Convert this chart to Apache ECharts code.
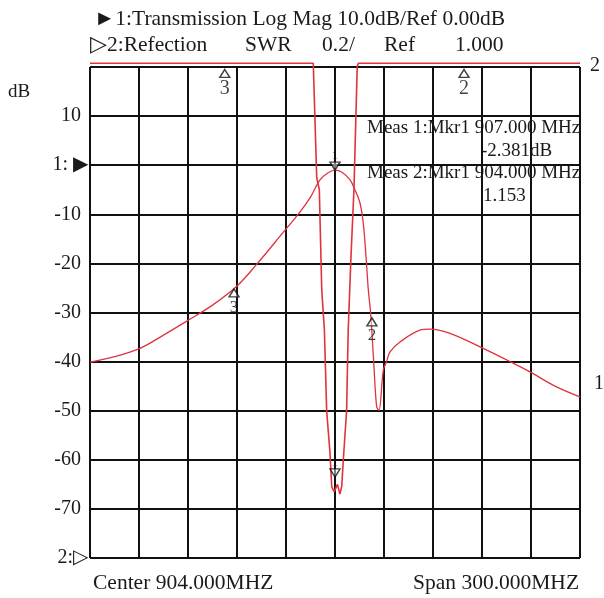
<!DOCTYPE html>
<html>
<head>
<meta charset="utf-8">
<script src="https://cdn.jsdelivr.net/npm/echarts@6/dist/echarts.min.js"></script>
<style>
html,body{margin:0;padding:0;background:#fff;}
#chart{width:604px;height:598px;}
</style>
</head>
<body>
<div id="chart"></div>
<script>
// ---- data ----
const CENTER_MHZ = 904;
const SPAN_MHZ = 300;
const dbTicks = [20, 10, 0, -10, -20, -30, -40, -50, -60, -70, -80];
const dbTickLabels = ['', '10', '1: \u25B6', '-10', '-20', '-30', '-40', '-50', '-60', '-70', '2:\u25B7'];

// Trace 1: Transmission (dB)
const transFreq = [754, 769, 784.6, 799, 814, 829, 844, 856, 872, 882.6, 889, 894.8, 900, 904, 908, 913.2, 916.2, 919.3, 921.3, 923.0, 924.4, 925.8, 927.6, 929.5, 930.9, 933.6, 935.6, 937.7, 943.8, 956, 962, 974, 992.8, 1013, 1023.4, 1038.7, 1054];
const transDb   = [-40.1, -39.0, -37.3, -34.6, -31.6, -28.5, -24.6, -20.2, -13.8, -9.5, -6.5, -3.0, -1.5, -1.0, -1.4, -3.0, -5.0, -7.7, -11.8, -18.7, -25.4, -30.1, -39.5, -49.2, -49.9, -41.7, -40.0, -38.0, -36.0, -33.6, -33.4, -34.2, -37.0, -40.3, -42.1, -45.0, -47.2];

// Trace 2: Reflection (SWR)
const swrFreq = [754, 890.7, 892.8, 894.4, 895.9, 897.5, 898.9, 900.9, 902.0, 903.5, 905.5, 907.0, 908.1, 909.1, 911.1, 912.1, 913.8, 915.6, 917.6, 918.3, 1054];
const swrVal  = [3.015, 3.015, 2.55, 2.50, 2.09, 1.93, 1.60, 1.43, 1.29, 1.27, 1.30, 1.26, 1.29, 1.40, 1.60, 1.93, 2.23, 2.50, 3.0, 3.015, 3.015];

// Markers
const transMkFreq = [904, 842.2, 926.6];
const transMkVal  = [-1.0, -25.2, -31.1];
const transMkName = ['1', '3', '2'];
const swrMkFreq = [904, 836.5, 983];
const swrMkVal  = [1.33, 2.99, 2.99];
const swrMkName = ['1', '3', '2'];

const headerLine1 = '\u25BA1:Transmission Log Mag 10.0dB/Ref 0.00dB';
const headerLine2 = ['\u25B72:Refection', 'SWR', '0.2/', 'Ref', '1.000'];
const meas1 = ['Meas 1:Mkr1 907.000 MHz', '-2.381dB'];
const meas2 = ['Meas 2:Mkr1 904.000 MHz', '1.153'];
const footer = ['Center 904.000MHZ', 'Span 300.000MHZ'];

// ---- chart ----
const RED = '#e0323f';
const FONT = '"Liberation Serif", "Times New Roman", serif';
const off = f => f - CENTER_MHZ;
const zip = (xs, ys) => xs.map((x, i) => [off(x), ys[i]]);

function markerSeries(freqs, vals, names, yIdx, bigLabels) {
  return {
    type: 'scatter',
    yAxisIndex: yIdx,
    silent: true,
    z: 5,
    data: freqs.map((f, i) => {
      const down = i === 0;
      return {
        value: [off(f), vals[i]],
        name: names[i],
        symbol: 'triangle',
        symbolRotate: down ? 180 : 0,
        symbolSize: [10, 8],
        symbolOffset: [0, down ? -4 : 4],
        label: {
          show: true,
          formatter: names[i],
          position: down ? 'top' : 'bottom',
          distance: down ? 0 : 1,
          fontFamily: FONT,
          fontSize: down ? 12 : (bigLabels ? 20 : 17),
          color: '#111'
        }
      };
    }),
    itemStyle: { color: 'rgba(255,255,255,0.6)', borderColor: '#111', borderWidth: 1.4 }
  };
}

const chart = echarts.init(document.getElementById('chart'), null, { renderer: 'canvas' });
const textStyle = (size) => ({ fontFamily: FONT, fontSize: size, fill: '#1a1a1a' });

chart.setOption({
  animation: false,
  backgroundColor: '#fff',
  grid: { left: 90, top: 67, width: 490, height: 491, show: false },
  xAxis: {
    type: 'value', min: -SPAN_MHZ / 2, max: SPAN_MHZ / 2, interval: SPAN_MHZ / 10,
    axisLine: { show: false }, axisTick: { show: false }, axisLabel: { show: false },
    splitLine: { show: true, lineStyle: { color: '#111', width: 2 } }
  },
  yAxis: [{
    type: 'value', min: -80, max: 20, interval: 10,
    axisLine: { show: false }, axisTick: { show: false },
    axisLabel: {
      show: true, margin: 2, fontFamily: FONT, fontSize: 20, color: '#1a1a1a',
      formatter: v => {
        const i = dbTicks.indexOf(v);
        if (i < 0) return '';
        const s = dbTickLabels[i];
        return (v === 0 || v === -80) ? s : '{n|' + s + '}';
      },
      rich: { n: { fontFamily: FONT, fontSize: 20, color: '#1a1a1a', padding: [0, 7, 0, 0] } }
    },
    splitLine: { show: true, lineStyle: { color: '#111', width: 2 } }
  }, {
    type: 'value', min: 1, max: 3, show: false, splitLine: { show: false }
  }],
  series: [{
    type: 'line', yAxisIndex: 0, data: zip(transFreq, transDb), showSymbol: false,
    smooth: 0.35, clip: false, lineStyle: { color: RED, width: 1.3 }, z: 3
  }, {
    type: 'line', yAxisIndex: 1, data: zip(swrFreq, swrVal), showSymbol: false,
    smooth: false, clip: false, lineStyle: { color: RED, width: 1.6 }, z: 3
  },
  markerSeries(transMkFreq, transMkVal, transMkName, 0, false),
  markerSeries(swrMkFreq, swrMkVal, swrMkName, 1, true)
  ],
  graphic: [
    { type: 'text', left: 94, top: 8, style: Object.assign({ text: headerLine1 }, textStyle(21.5)) },
    { type: 'text', left: 90, top: 34, style: Object.assign({ text: headerLine2[0] }, textStyle(21.5)) },
    { type: 'text', left: 245, top: 34, style: Object.assign({ text: headerLine2[1] }, textStyle(21.5)) },
    { type: 'text', left: 322, top: 34, style: Object.assign({ text: headerLine2[2] }, textStyle(21.5)) },
    { type: 'text', left: 384, top: 34, style: Object.assign({ text: headerLine2[3] }, textStyle(21.5)) },
    { type: 'text', left: 455, top: 34, style: Object.assign({ text: headerLine2[4] }, textStyle(21.5)) },
    { type: 'text', left: 8, top: 83, style: Object.assign({ text: 'dB' }, textStyle(19)) },
    { type: 'text', left: 590, top: 56, style: Object.assign({ text: '2' }, textStyle(20)) },
    { type: 'text', left: 594, top: 374, style: Object.assign({ text: '1' }, textStyle(20)) },
    { type: 'text', left: 367, top: 119, style: Object.assign({ text: meas1[0] }, textStyle(19)) },
    { type: 'text', left: 481, top: 142, style: Object.assign({ text: meas1[1] }, textStyle(19)) },
    { type: 'text', left: 367, top: 164, style: Object.assign({ text: meas2[0] }, textStyle(19)) },
    { type: 'text', left: 483, top: 187, style: Object.assign({ text: meas2[1] }, textStyle(19)) },
    { type: 'text', left: 93, top: 572, style: Object.assign({ text: footer[0] }, textStyle(21.5)) },
    { type: 'text', left: 413, top: 572, style: Object.assign({ text: footer[1] }, textStyle(21.5)) }
  ]
});
</script>
</body>
</html>
